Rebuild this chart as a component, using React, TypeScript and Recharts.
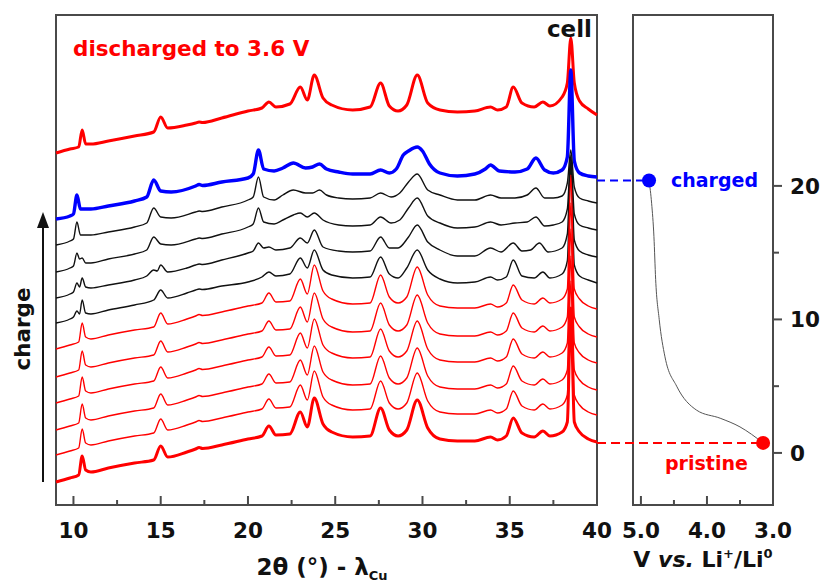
import { LineChart, Line, XAxis, YAxis, ReferenceArea, ReferenceLine, ReferenceDot } from 'recharts';

const FONT = '"DejaVu Sans", Arial, sans-serif';
const RED = '#ff0000';
const BLUE = '#0000ff';
const INK = '#111111';
const FRAME = '#4a4a4a';

// axes
const twoThetaDomain: [number, number] = [9, 40];
const twoThetaTicks = [10, 12.5, 15, 17.5, 20, 22.5, 25, 27.5, 30, 32.5, 35, 37.5, 40];
const intensityDomain: [number, number] = [0, 490];
const voltDomain: [number, number] = [3.0, 5.12];
const voltTicks = [5.0, 4.5, 4.0, 3.5, 3.0];
const capDomain: [number, number] = [-3.9, 32.8];
const capTicks = [0, 5, 10, 15, 20];

// XRD scans: [2theta, intensity above the scan's own start] (a.u.)
const discharged36 = [
  [9.0, 0], [9.8, 4], [10.3, 6], [10.5, 23], [10.7, 9], [11.0, 9], [12.0, 12], [13.5, 17], [14.6, 21], [15.0, 36],
  [15.4, 25], [16.5, 28], [17.0, 30], [17.2, 31], [17.4, 30.5], [18.5, 35], [20.0, 42], [20.8, 45], [21.2, 51], [21.6, 46],
  [22.4, 49], [23.0, 66], [23.4, 53], [23.8, 78], [24.3, 55], [24.8, 48], [26.0, 43], [27.0, 46], [27.6, 70], [28.1, 47],
  [28.6, 42], [29.1, 48], [29.7, 78], [30.3, 50], [31.0, 43], [32.0, 41], [33.0, 42], [33.9, 46], [34.3, 43], [34.8, 46],
  [35.2, 66], [35.7, 50], [36.4, 46], [36.9, 51], [37.3, 47], [38.0, 56], [38.3, 70], [38.5, 115], [38.7, 70], [39.0, 52],
  [39.5, 44], [40.0, 38],
];
const charged = [
  [9.0, 0], [9.8, 3], [10.0, 5], [10.2, 24], [10.4, 10], [11.0, 10], [12.0, 13], [13.5, 18], [14.2, 22], [14.6, 39],
  [15.0, 28], [15.6, 27], [17.0, 33], [17.2, 34.5], [17.4, 33.5], [18.5, 37], [20.0, 41], [20.3, 45], [20.6, 69], [20.9, 50],
  [21.5, 48], [22.0, 51], [22.6, 56], [23.3, 51], [23.7, 52], [24.1, 55], [24.5, 50], [25.2, 47], [26.0, 45], [27.0, 45],
  [27.6, 49], [28.1, 46], [28.5, 50], [28.9, 64], [29.2, 68], [29.7, 72], [30.0, 68], [30.4, 55], [31.0, 46], [32.0, 43],
  [33.0, 45], [33.6, 50], [33.9, 54], [34.4, 48], [35.3, 47], [36.0, 50], [36.5, 61], [37.0, 49], [37.5, 46], [38.0, 49],
  [38.3, 62], [38.5, 149], [38.7, 58], [39.0, 46], [39.5, 43], [40.0, 42],
];
const chargeStep1 = [
  [9.0, 0], [9.8, 4], [10.0, 6], [10.2, 23], [10.4, 10], [11.0, 10], [12.0, 13], [13.5, 18], [14.2, 22], [14.6, 37],
  [15.0, 28], [15.6, 27], [17.0, 33], [17.2, 34], [17.4, 33.5], [18.5, 38], [20.0, 45], [20.3, 48], [20.6, 68], [20.9, 48],
  [21.5, 45], [22.0, 50], [22.6, 55], [23.3, 52], [23.7, 52], [24.1, 55], [24.5, 50], [25.2, 47], [26.0, 46], [27.0, 47],
  [27.6, 52], [28.2, 48], [28.7, 52], [29.2, 63], [29.7, 71], [30.3, 55], [31.0, 50], [32.0, 45], [33.0, 45], [33.9, 50],
  [34.5, 47], [35.3, 47], [36.0, 50], [36.5, 57], [37.0, 47], [37.5, 47], [38.0, 49], [38.3, 62], [38.5, 95], [38.7, 58],
  [39.0, 47], [39.5, 44], [40.0, 42],
];
const chargeStep2 = [
  [9.0, 0], [9.8, 4], [10.0, 6], [10.2, 19], [10.35, 13], [10.5, 14], [10.7, 9], [11.0, 9], [12.0, 13], [13.5, 18],
  [14.2, 22], [14.6, 35], [15.0, 28], [15.6, 27], [17.0, 33], [17.2, 34], [17.4, 33.5], [18.5, 38], [20.0, 45], [20.3, 48],
  [20.6, 64], [20.9, 50], [21.5, 48], [22.0, 52], [22.6, 57], [23.0, 59], [23.4, 55], [23.8, 59], [24.3, 52], [25.2, 47],
  [26.0, 46], [27.0, 47], [27.6, 55], [28.2, 49], [28.7, 52], [29.2, 64], [29.7, 74], [30.3, 56], [31.0, 49], [32.0, 44],
  [33.0, 45], [33.9, 50], [34.5, 47], [35.3, 49], [36.0, 50], [36.5, 55], [37.0, 46], [37.5, 47], [38.0, 50], [38.3, 63],
  [38.5, 117], [38.7, 58], [39.0, 47], [39.5, 44], [40.0, 42],
];
const chargeStep3 = [
  [9.0, 0], [9.8, 4], [10.0, 6], [10.2, 15], [10.35, 11], [10.5, 20], [10.7, 11], [11.0, 10], [12.0, 13], [13.5, 18],
  [14.2, 22], [14.6, 28], [14.8, 27], [15.0, 33], [15.4, 26], [16.5, 30], [17.0, 33], [17.2, 34], [17.4, 33.5], [18.5, 38],
  [20.0, 45], [20.3, 47], [20.6, 55], [20.9, 50], [21.2, 51], [21.6, 48], [22.4, 50], [23.0, 60], [23.4, 55], [23.8, 68],
  [24.3, 51], [25.2, 47], [26.0, 46], [27.0, 47], [27.6, 61], [28.1, 50], [28.6, 50], [29.2, 61], [29.7, 73], [30.3, 56],
  [31.0, 48], [32.0, 42], [33.0, 42], [33.9, 50], [34.5, 46], [35.2, 55], [35.7, 47], [36.2, 48], [36.7, 55], [37.2, 46],
  [38.0, 50], [38.3, 64], [38.5, 138], [38.7, 58], [39.0, 47], [39.5, 43], [40.0, 41],
];
const chargeStep4 = [
  [9.0, 0], [9.8, 4], [10.0, 6], [10.2, 12], [10.35, 9], [10.5, 23], [10.7, 10], [11.0, 9], [12.0, 13], [13.5, 18],
  [14.6, 23], [15.0, 33], [15.4, 25], [16.5, 30], [17.0, 33], [17.2, 34], [17.4, 33.5], [18.5, 37], [20.0, 41], [20.8, 46],
  [21.2, 51], [21.6, 47], [22.4, 49], [23.0, 65], [23.4, 55], [23.8, 73], [24.3, 53], [24.8, 48], [26.0, 45], [27.0, 46],
  [27.6, 66], [28.1, 49], [28.6, 45], [29.1, 55], [29.7, 73], [30.3, 53], [31.0, 44], [32.0, 40], [33.0, 41], [33.9, 46],
  [34.3, 43], [34.8, 46], [35.2, 63], [35.7, 47], [36.4, 45], [36.9, 51], [37.3, 45], [38.0, 49], [38.3, 62], [38.5, 158],
  [38.7, 58], [39.0, 47], [39.5, 43], [40.0, 40],
];
const pristineLike = [
  [9.0, 0], [9.8, 4], [10.3, 7], [10.5, 26], [10.7, 12], [11.0, 10], [12.0, 14], [13.5, 19], [14.6, 22], [15.0, 36],
  [15.4, 25], [16.5, 30], [17.0, 33], [17.2, 34.5], [17.4, 33.5], [18.5, 37], [20.0, 43], [20.8, 46], [21.2, 56], [21.6, 47],
  [22.4, 48], [23.0, 70], [23.4, 55], [23.8, 84], [24.3, 58], [24.8, 50], [26.0, 45], [27.0, 46], [27.6, 74], [28.1, 52],
  [28.6, 46], [29.1, 52], [29.7, 82], [30.3, 54], [31.0, 43], [32.0, 41], [33.0, 41], [33.9, 45], [34.3, 42], [34.8, 46],
  [35.2, 64], [35.7, 49], [36.4, 45], [36.9, 51], [37.3, 46], [38.0, 50], [38.3, 60], [38.5, 174], [38.7, 60], [39.0, 50],
  [39.5, 43], [40.0, 40],
];

// stacking offsets, drawn top scan first so lower scans sit on top
const scanShapes = [discharged36, charged, chargeStep1, chargeStep2, chargeStep3, chargeStep4,
  pristineLike, pristineLike, pristineLike, pristineLike, pristineLike, pristineLike];
const scanOffsets = [352, 286, 260, 233, 207, 182, 156, 128, 102, 75, 50, 23];
const scanColors = [RED, BLUE, INK, INK, INK, INK, RED, RED, RED, RED, RED, RED];
const scanWidths = [3, 3.4, 1.4, 1.4, 1.4, 1.4, 1.4, 1.4, 1.4, 1.4, 1.4, 3];

// voltage profile: [V vs Li+/Li0, Li / capacity]
const voltageProfile = [
  [4.877, 20.4], [4.838, 18.7], [4.803, 16.2], [4.777, 13.0], [4.723, 10.0], [4.636, 7.2],
  [4.459, 5.0], [4.156, 3.2], [3.8, 2.6], [3.5, 1.95], [3.15, 0.75],
];
const chargedPoint = [4.877, 20.4];
const pristinePoint = [3.15, 0.75];
const linkStartV = 5.665; // left panel edge, in the right panel's voltage scale

const BottomTick = ({ x, y, payload, isMajor, fmt }: any) => {
  const major = isMajor(payload.value);
  return (
    <g>
      <line x1={x} x2={x} y1={y} y2={y - (major ? 9 : 5)} stroke={FRAME} strokeWidth={2} />
      {major && (
        <text x={x} y={y + 33} textAnchor="middle" fontFamily={FONT} fontWeight="bold" fontSize={21.5} fill={INK}>
          {fmt(payload.value)}
        </text>
      )}
    </g>
  );
};

const RightTick = ({ x, y, payload }: any) => {
  const major = payload.value % 10 === 0;
  return (
    <g>
      <line x1={x} x2={x + (major ? 9 : 6)} y1={y} y2={y} stroke={FRAME} strokeWidth={2} />
      {major && (
        <text x={x + 17} y={y + 8} textAnchor="start" fontFamily={FONT} fontWeight="bold" fontSize={21.5} fill={INK}>
          {payload.value}
        </text>
      )}
    </g>
  );
};

const XrdPanel = () => (
  <LineChart width={620} height={585} margin={{ top: 15, right: 23, left: 56, bottom: 0 }}>
    <XAxis
      type="number"
      dataKey="tt"
      domain={twoThetaDomain}
      ticks={twoThetaTicks}
      interval={0}
      height={80}
      axisLine={false}
      tickLine={false}
      tickSize={0}
      tickMargin={0}
      tick={(p: any) => <BottomTick {...p} isMajor={(v: number) => v % 5 === 0} fmt={(v: number) => String(v)} />}
    />
    <YAxis type="number" domain={intensityDomain} hide />
    <ReferenceArea x1={twoThetaDomain[0]} x2={twoThetaDomain[1]} y1={intensityDomain[0]} y2={intensityDomain[1]}
      fill="none" stroke={FRAME} strokeWidth={2} fillOpacity={0} />
    {scanShapes.map((shape, i) => (
      <Line
        key={i}
        data={shape.map(([tt, c]) => ({ tt, c: c + scanOffsets[i] }))}
        dataKey="c"
        type="monotone"
        stroke={scanColors[i]}
        strokeWidth={scanWidths[i]}
        dot={false}
        activeDot={false}
        isAnimationActive={false}
      />
    ))}
  </LineChart>
);

const VoltagePanel = () => (
  <LineChart width={224} height={585} margin={{ top: 15, right: 0, left: 36, bottom: 0 }}>
    <XAxis
      type="number"
      dataKey="v"
      domain={voltDomain}
      reversed
      ticks={voltTicks}
      interval={0}
      height={80}
      axisLine={false}
      tickLine={false}
      tickSize={0}
      tickMargin={0}
      tick={(p: any) => <BottomTick {...p} isMajor={(v: number) => Math.abs(v - Math.round(v)) < 1e-6} fmt={(v: number) => v.toFixed(1)} />}
    />
    <YAxis
      type="number"
      orientation="right"
      domain={capDomain}
      ticks={capTicks}
      interval={0}
      width={48}
      axisLine={false}
      tickLine={false}
      tickSize={0}
      tickMargin={0}
      tick={(p: any) => <RightTick {...p} />}
    />
    <ReferenceArea x1={voltDomain[0]} x2={voltDomain[1]} y1={capDomain[0]} y2={capDomain[1]}
      fill="none" stroke={FRAME} strokeWidth={2} fillOpacity={0} />
    <ReferenceLine
      segment={[{ x: linkStartV, y: chargedPoint[1] }, { x: chargedPoint[0], y: chargedPoint[1] }]}
      ifOverflow="visible" stroke={BLUE} strokeWidth={2} strokeDasharray="8 5"
    />
    <ReferenceLine
      segment={[{ x: linkStartV, y: pristinePoint[1] }, { x: pristinePoint[0], y: pristinePoint[1] }]}
      ifOverflow="visible" stroke={RED} strokeWidth={2} strokeDasharray="9 5"
    />
    <Line
      data={voltageProfile.map(([v, q]) => ({ v, q }))}
      dataKey="q"
      type="monotone"
      stroke="#555"
      strokeWidth={1}
      dot={false}
      activeDot={false}
      isAnimationActive={false}
    />
    <ReferenceDot x={chargedPoint[0]} y={chargedPoint[1]} r={7} fill={BLUE} stroke="none" />
    <ReferenceDot x={pristinePoint[0]} y={pristinePoint[1]} r={7} fill={RED} stroke="none" />
  </LineChart>
);

const Annotations = () => (
  <svg width={821} height={585} style={{ position: 'absolute', left: 0, top: 0, pointerEvents: 'none' }}>
    <g fontFamily={FONT} fontWeight="bold">
      <text x={73} y={56} fontSize={21.5} fill={RED}>discharged to 3.6 V</text>
      <text x={592} y={37} fontSize={23} fill={INK} textAnchor="end">cell</text>
      <text x={671} y={187} fontSize={19} fill={BLUE}>charged</text>
      <text x={665} y={470} fontSize={19} fill={RED}>pristine</text>
      <text transform="translate(30 329) rotate(-90)" textAnchor="middle" fontSize={21.5} fill={INK}>charge</text>
      <text x={322} y={575} textAnchor="middle" fontSize={23} fill={INK}>
        2θ (°) - λ<tspan fontSize={13} dy={5}>Cu</tspan>
      </text>
      <text x={703} y={567} textAnchor="middle" fontSize={22} fill={INK}>
        V <tspan fontStyle="italic">vs.</tspan> Li<tspan fontSize={13} dy={-9}>+</tspan>
        <tspan dy={9}>/Li</tspan><tspan fontSize={13} dy={-9}>0</tspan>
      </text>
    </g>
    <line x1={43} x2={43} y1={482} y2={226} stroke={INK} strokeWidth={2} />
    <polygon points="43,212 37,228 49,228" fill={INK} />
  </svg>
);

export default function App() {
  return (
    <div style={{ position: 'absolute', left: 0, top: 0, width: 821, height: 585, background: '#fff' }}>
      <div style={{ position: 'absolute', left: 0, top: 0 }}>
        <XrdPanel />
      </div>
      <div style={{ position: 'absolute', left: 597, top: 0 }}>
        <VoltagePanel />
      </div>
      <Annotations />
    </div>
  );
}
